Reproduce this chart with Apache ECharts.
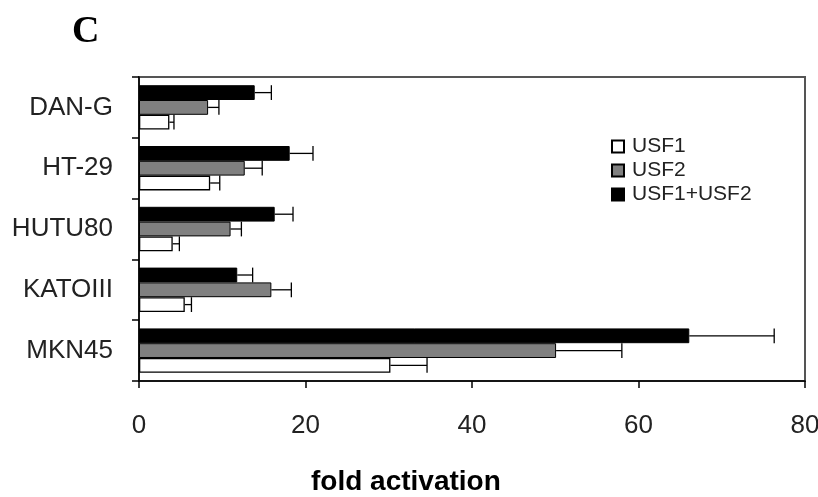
<!DOCTYPE html>
<html>
<head>
<meta charset="utf-8">
<script src="https://cdn.jsdelivr.net/npm/echarts@6/dist/echarts.min.js"></script>
<style>
html,body{margin:0;padding:0;background:#fff;}
#chart{width:818px;height:497px;}
</style>
</head>
<body>
<div id="chart"></div>
<script>
var categories = ['DAN-G', 'HT-29', 'HUTU80', 'KATOIII', 'MKN45'];
var usf1 = [3.65, 8.55, 4.05, 5.5, 30.2];
var usf1Err = [0.55, 1.15, 0.8, 0.8, 4.4];
var usf2 = [8.3, 12.7, 11.0, 15.9, 50.1];
var usf2Err = [1.3, 2.1, 1.3, 2.4, 7.9];
var combo = [13.9, 18.1, 16.3, 11.8, 66.1];
var comboErr = [2.0, 2.8, 2.2, 1.85, 10.2];
var xTicks = [0, 20, 40, 60, 80];

var GAP = 0.27;
var chart = echarts.init(document.getElementById('chart'));

function errData(vals, errs) {
  return vals.map(function (v, i) { return [i, v, v + errs[i]]; });
}
function makeErr(k) {
  return function (params, api) {
    var cat = api.value(0), v = api.value(1), e = api.value(2);
    var p0 = api.coord([v, cat]);
    var p1 = api.coord([e, cat]);
    var band = api.size([0, 1])[1];
    var bw = band * (1 - GAP) / 3;
    var y = p0[1] + (k - 1) * bw;
    var st = { stroke: '#000', lineWidth: 1.3 };
    return {
      type: 'group',
      children: [
        { type: 'line', shape: { x1: p0[0], y1: y, x2: p1[0], y2: y }, style: st },
        { type: 'line', shape: { x1: p1[0], y1: y - bw / 2, x2: p1[0], y2: y + bw / 2 }, style: st }
      ]
    };
  };
}

var font = 'Liberation Sans, Arial, sans-serif';
var option = {
  animation: false,
  backgroundColor: '#fff',
  title: [{
    text: 'C', left: 67, top: 8,
    textStyle: { fontFamily: 'Liberation Serif, Times New Roman, serif', fontWeight: 'bold', fontSize: 38, color: '#000' }
  }, {
    text: 'fold activation', left: 306, top: 463,
    textStyle: { fontFamily: font, fontWeight: 'bold', fontSize: 28, color: '#000' }
  }],
  legend: {
    orient: 'vertical', left: 606, top: 131,
    itemWidth: 12, itemHeight: 12, itemGap: 3,
    data: ['USF1', 'USF2', 'USF1+USF2'],
    textStyle: { fontFamily: font, fontSize: 21, color: '#222', padding: [0, 0, 0, 3] },
    icon: 'rect'
  },
  grid: {
    left: 139, right: 13, top: 77, bottom: 116,
    outerBoundsMode: 'none', containLabel: false,
    show: true, borderColor: '#555', borderWidth: 2, backgroundColor: 'transparent'
  },
  xAxis: {
    type: 'value', min: 0, max: 80, interval: 20,
    axisLine: { show: true, lineStyle: { color: '#000', width: 1.5 } },
    axisTick: { show: true, length: 7, lineStyle: { color: '#000', width: 1.5 } },
    splitLine: { show: false },
    axisLabel: { margin: 32, fontFamily: font, fontSize: 26, color: '#222',
      formatter: function (v) { return xTicks.indexOf(v) >= 0 ? String(v) : ''; } }
  },
  yAxis: {
    type: 'category', data: categories, inverse: true,
    axisLine: { show: true, lineStyle: { color: '#000', width: 1.5 } },
    axisTick: { show: true, length: 7, lineStyle: { color: '#000', width: 1.5 } },
    axisLabel: { margin: 26, fontFamily: font, fontSize: 26, color: '#222', padding: [0, 0, 11, 0] }
  },
  series: [
    { name: 'USF1+USF2', type: 'bar', data: combo, barGap: '0%', barCategoryGap: (GAP * 100) + '%',
      itemStyle: { color: '#000', borderColor: '#000', borderWidth: 1 } },
    { name: 'USF2', type: 'bar', data: usf2,
      itemStyle: { color: '#808080', borderColor: '#000', borderWidth: 1 } },
    { name: 'USF1', type: 'bar', data: usf1,
      itemStyle: { color: '#fff', borderColor: '#000', borderWidth: 1.3 } },
    { type: 'custom', renderItem: makeErr(0), data: errData(combo, comboErr), encode: { x: [1, 2], y: 0 }, z: 3 },
    { type: 'custom', renderItem: makeErr(1), data: errData(usf2, usf2Err), encode: { x: [1, 2], y: 0 }, z: 3 },
    { type: 'custom', renderItem: makeErr(2), data: errData(usf1, usf1Err), encode: { x: [1, 2], y: 0 }, z: 3 }
  ]
};
chart.setOption(option);
</script>
</body>
</html>
